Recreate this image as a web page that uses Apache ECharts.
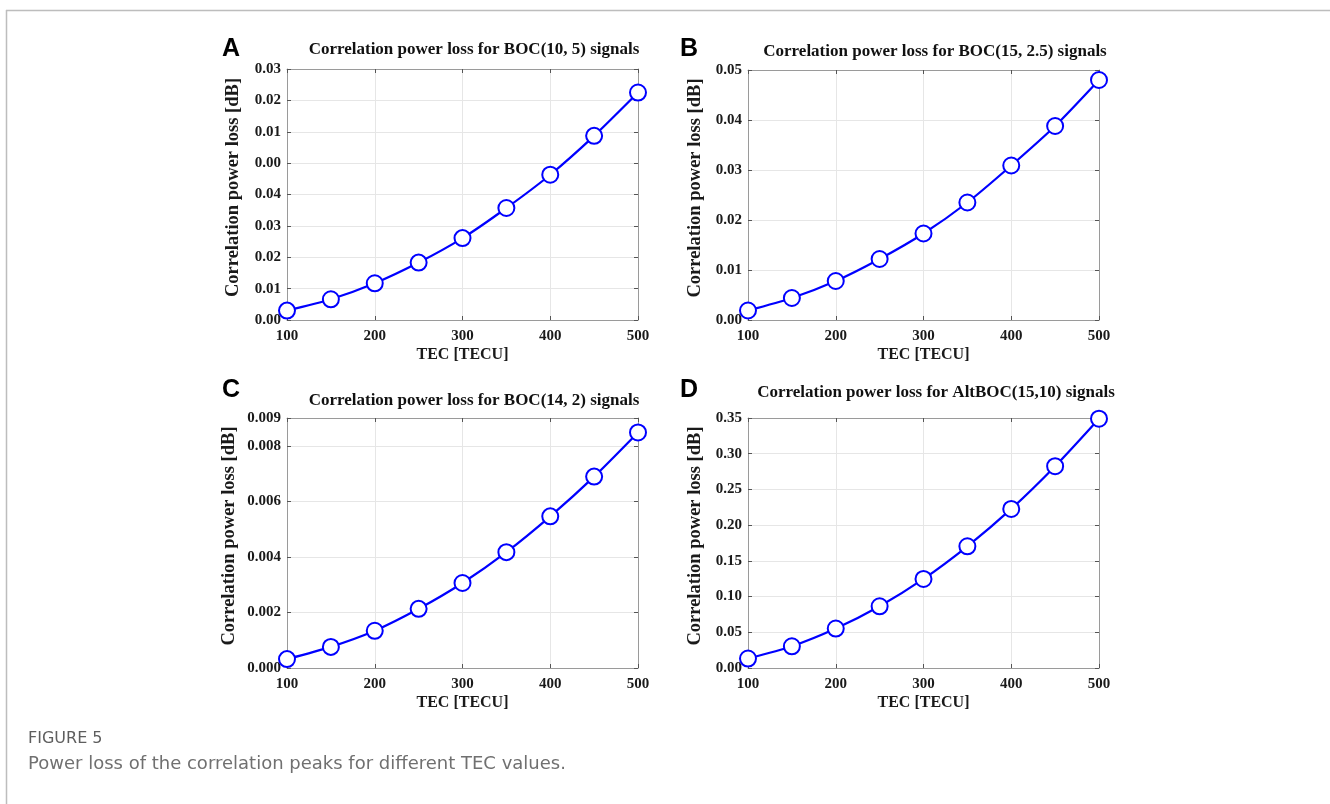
<!DOCTYPE html>
<html>
<head>
<meta charset="utf-8">
<script src="https://cdn.jsdelivr.net/npm/echarts@6/dist/echarts.min.js"></script>
<style>
html,body{margin:0;padding:0;background:#fff;}
#chart{width:1330px;height:804px;}
</style>
</head>
<body>
<div id="chart"></div>
<script>
// ---- data ----
const tec = [100, 150, 200, 250, 300, 350, 400, 450, 500];
const lossA = [0.0030, 0.0066, 0.0117, 0.0183, 0.0261, 0.0357, 0.0463, 0.0587, 0.0725];
const lossB = [0.0019, 0.0044, 0.0078, 0.0122, 0.0173, 0.0235, 0.0309, 0.0388, 0.0480];
const lossC = [0.00032, 0.00076, 0.00134, 0.00213, 0.00306, 0.00417, 0.00546, 0.00689, 0.00848];
const lossD = [0.0132, 0.0304, 0.0552, 0.0864, 0.1247, 0.1704, 0.2227, 0.2825, 0.3490];

const xTickLabels = ['100', '200', '300', '400', '500'];
// tick labels as printed in the figure (panel A's labels are printed this way in the original)
const yTicksA = ['0.00', '0.01', '0.02', '0.03', '0.04', '0.00', '0.01', '0.02', '0.03'];
const yTicksB = ['0.00', '0.01', '0.02', '0.03', '0.04', '0.05'];
const yTicksC = ['0.000', '0.002', '0.004', '0.006', '0.008', '0.009'];
const yTicksD = ['0.00', '0.05', '0.10', '0.15', '0.20', '0.25', '0.30', '0.35'];

const titles = [
  'Correlation power loss for BOC(10, 5) signals',
  'Correlation power loss for BOC(15, 2.5) signals',
  'Correlation power loss for BOC(14, 2) signals',
  'Correlation power loss for AltBOC(15,10) signals'
];
const letters = ['A', 'B', 'C', 'D'];
const xName = 'TEC [TECU]';
const yName = 'Correlation power loss [dB]';
const captionHead = 'FIGURE 5';
const captionText = 'Power loss of the correlation peaks for different TEC values.';

// ---- layout ----
const serif = '"Liberation Serif","Times New Roman",serif';
const panels = [
  {grid:{left:287, top:69, width:351, height:251}, data:lossA, ymax:0.08, yint:0.01, ticks:yTicksA, title:{x:469,y:36}, letter:{x:217,y:32}},
  {grid:{left:748, top:70, width:351, height:250}, data:lossB, ymax:0.05, yint:0.01, ticks:yTicksB, title:{x:930,y:38}, letter:{x:675,y:32}},
  {grid:{left:287, top:418, width:351, height:250}, data:lossC, ymax:0.009, yint:0.002, ticks:yTicksC, title:{x:469,y:387}, letter:{x:217,y:373}},
  {grid:{left:748, top:418, width:351, height:250}, data:lossD, ymax:0.35, yint:0.05, ticks:yTicksD, title:{x:931,y:379}, letter:{x:675,y:373}}
];

const grids = [], xAxes = [], yAxes = [], series = [], titleList = [];
const axisGray = '#9a9a9a';
const labelStyle = {fontFamily: serif, fontWeight: 'bold', fontSize: 15, color: '#1a1a1a'};

panels.forEach((p, i) => {
  grids.push(Object.assign({containLabel:false}, p.grid));
  xAxes.push({
    gridIndex:i, type:'value', min:100, max:500, interval:100, position:'bottom',
    name:xName, nameLocation:'middle', nameGap:27,
    nameTextStyle:{fontFamily:serif, fontWeight:'bold', fontSize:16, color:'#1a1a1a'},
    axisLine:{show:true, onZero:false, lineStyle:{color:axisGray, width:1}},
    axisTick:{show:true, inside:true, length:4, lineStyle:{color:'#555'}},
    axisLabel:Object.assign({margin:9, formatter:(v)=>{const k=xTickLabels.indexOf(String(v)); return k>=0?xTickLabels[k]:'';}}, labelStyle),
    splitLine:{show:true, lineStyle:{color:'#e6e6e6', width:1}}
  });
  xAxes.push({
    gridIndex:i, type:'value', min:100, max:500, interval:100, position:'top',
    axisLine:{show:true, onZero:false, lineStyle:{color:axisGray, width:1}},
    axisTick:{show:true, inside:true, length:4, lineStyle:{color:'#555'}},
    axisLabel:{show:false}, splitLine:{show:false}
  });
  const tickFmt = (v) => {
    let k = Math.round(v / p.yint);
    if (Math.abs(v - p.ymax) < 1e-9 && Math.abs(k * p.yint - p.ymax) > 1e-9) k = p.ticks.length - 1;
    return p.ticks[k] !== undefined ? p.ticks[k] : '';
  };
  yAxes.push({
    gridIndex:i, type:'value', min:0, max:p.ymax, interval:p.yint, position:'left',
    name:yName, nameLocation:'middle', nameGap:i===2 ? 48 : (i===0 ? 44 : 43),
    nameTextStyle:{fontFamily:serif, fontWeight:'bold', fontSize:18.5, color:'#1a1a1a', padding:[0,0,0,14]},
    axisLine:{show:true, onZero:false, lineStyle:{color:axisGray, width:1}},
    axisTick:{show:true, inside:true, length:4, lineStyle:{color:'#555'}},
    axisLabel:Object.assign({margin:6, formatter:tickFmt}, labelStyle),
    splitLine:{show:true, lineStyle:{color:'#e6e6e6', width:1}}
  });
  yAxes.push({
    gridIndex:i, type:'value', min:0, max:p.ymax, interval:p.yint, position:'right',
    axisLine:{show:true, onZero:false, lineStyle:{color:axisGray, width:1}},
    axisTick:{show:true, inside:true, length:4, lineStyle:{color:'#555'}},
    axisLabel:{show:false}, splitLine:{show:false}
  });
  series.push({
    type:'line', xAxisIndex:i*2, yAxisIndex:i*2,
    data: tec.map((t, j) => [t, p.data[j]]),
    smooth:0.25, symbol:'emptyCircle', symbolSize:16,
    lineStyle:{color:'#0000ff', width:2.2},
    itemStyle:{color:'#0000ff', borderColor:'#0000ff', borderWidth:2},
    z:3
  });
  titleList.push({
    text:titles[i], left:p.title.x, top:p.title.y, textAlign:'center',
    textStyle:{fontFamily:serif, fontWeight:'bold', fontSize:17, color:'#111'}
  });
  titleList.push({
    text:letters[i], left:p.letter.x, top:p.letter.y,
    textStyle:{fontFamily:'"Liberation Sans",Arial,sans-serif', fontWeight:'bold', fontSize:25, color:'#000'}
  });
});

titleList.push({
  text:captionHead, left:23, top:726,
  textStyle:{fontFamily:'"DejaVu Sans",sans-serif', fontWeight:'normal', fontSize:16, color:'#5e5e5e'}
});
titleList.push({
  text:captionText, left:23, top:750,
  textStyle:{fontFamily:'"DejaVu Sans",sans-serif', fontWeight:'normal', fontSize:18, color:'#707070'}
});

const chart = echarts.init(document.getElementById('chart'), null, {renderer:'canvas'});
chart.setOption({
  animation:false,
  backgroundColor:'#fff',
  title:titleList,
  grid:grids,
  xAxis:xAxes,
  yAxis:yAxes,
  series:series,
  graphic:[
    {type:'line', shape:{x1:6, y1:10.5, x2:1330, y2:10.5}, style:{stroke:'#bdbdbd', lineWidth:1.5}},
    {type:'line', shape:{x1:6.5, y1:10, x2:6.5, y2:804}, style:{stroke:'#bdbdbd', lineWidth:1.5}}
  ]
});
</script>
</body>
</html>
